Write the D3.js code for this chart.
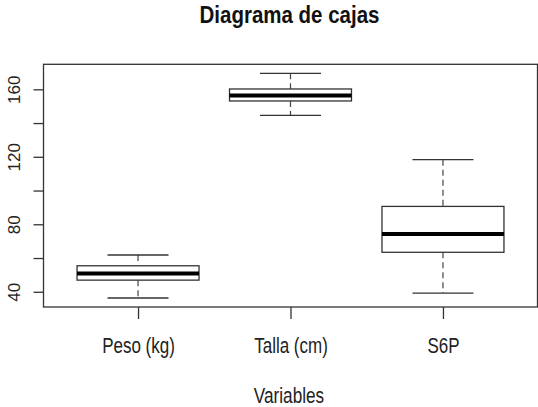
<!DOCTYPE html>
<html>
<head>
<meta charset="utf-8">
<script src="https://cdn.jsdelivr.net/npm/d3@7"></script>
<style>
  body { margin: 0; background: #fff; }
  text { font-family: "Liberation Sans", Arial, sans-serif; fill: #222; }
</style>
</head>
<body>
<div id="chart"></div>
<script>
// data
var categories = ["Peso (kg)", "Talla (cm)", "S6P"];
var whiskerLow  = [36.3, 144.6, 39.2];
var q1          = [46.9, 153.1, 63.4];
var median      = [50.9, 156.4, 74.2];
var q3          = [55.4, 160.2, 90.6];
var whiskerHigh = [61.8, 169.5, 118.3];
var yTicks = [40, 60, 80, 100, 120, 140, 160];
var yTickLabels = [40, 80, 120, 160];

var boxes = categories.map(function(c, i) {
  return {name: c, i: i + 1, lo: whiskerLow[i], q1: q1[i], med: median[i], q3: q3[i], hi: whiskerHigh[i]};
});

var width = 538, height = 407;
var margin = {top: 64.3, right: 0.5, bottom: 100, left: 43.5};
var plotW = width - margin.left - margin.right,
    plotH = 307 - margin.top;

var svg = d3.select("#chart")
  .append("svg")
    .attr("width", width)
    .attr("height", height);

var g = svg.append("g")
    .attr("transform", "translate(" + margin.left + "," + margin.top + ")");

// R style: x range 0.5..n+0.5, both axes padded by 4%
var n = categories.length;
var xPad = n * 0.04;
var x = d3.scaleLinear()
    .domain([0.5 - xPad, n + 0.5 + xPad])
    .range([0, plotW]);

var ext = [d3.min(whiskerLow), d3.max(whiskerHigh)];
var yPad = (ext[1] - ext[0]) * 0.04;
var y = d3.scaleLinear()
    .domain([ext[0] - yPad, ext[1] + yPad])
    .range([plotH, 0]);

var boxW = x(1.4) - x(1);     // half width of box (0.4 units)
var capW = x(1.2) - x(1);     // half width of staple

var line = "#333";

// whiskers (dashed)
var bx = g.selectAll(".box")
  .data(boxes)
  .enter()
  .append("g")
    .attr("class", "box");

bx.append("line")
    .attr("x1", d => x(d.i)).attr("x2", d => x(d.i))
    .attr("y1", d => y(d.hi)).attr("y2", d => y(d.q3))
    .attr("stroke", "#444").attr("stroke-width", 1.2)
    .attr("stroke-dasharray", "6,4");

bx.append("line")
    .attr("x1", d => x(d.i)).attr("x2", d => x(d.i))
    .attr("y1", d => y(d.q1)).attr("y2", d => y(d.lo))
    .attr("stroke", "#444").attr("stroke-width", 1.2)
    .attr("stroke-dasharray", "6,4");

// staples
bx.append("line")
    .attr("x1", d => x(d.i) - capW).attr("x2", d => x(d.i) + capW)
    .attr("y1", d => y(d.hi)).attr("y2", d => y(d.hi))
    .attr("stroke", line).attr("stroke-width", 1.3);

bx.append("line")
    .attr("x1", d => x(d.i) - capW).attr("x2", d => x(d.i) + capW)
    .attr("y1", d => y(d.lo)).attr("y2", d => y(d.lo))
    .attr("stroke", line).attr("stroke-width", 1.3);

// boxes
bx.append("rect")
    .attr("x", d => x(d.i) - boxW)
    .attr("width", boxW * 2)
    .attr("y", d => y(d.q3))
    .attr("height", d => y(d.q1) - y(d.q3))
    .attr("fill", "#fff")
    .attr("stroke", line).attr("stroke-width", 1.3);

// medians
bx.append("line")
    .attr("x1", d => x(d.i) - boxW).attr("x2", d => x(d.i) + boxW)
    .attr("y1", d => y(d.med)).attr("y2", d => y(d.med))
    .attr("stroke", "#000").attr("stroke-width", 4);

// frame
g.append("rect")
    .attr("width", plotW).attr("height", plotH)
    .attr("fill", "none")
    .attr("stroke", line).attr("stroke-width", 1.3);

// Y axis
var yAxis = g.append("g")
    .call(d3.axisLeft(y)
      .tickValues(yTicks)
      .tickSize(10)
      .tickFormat(v => yTickLabels.indexOf(v) >= 0 ? v : ""));
yAxis.select(".domain").remove();
yAxis.selectAll("line").attr("stroke", line).attr("stroke-width", 1.3);
yAxis.selectAll("text")
    .attr("transform", "rotate(-90)")
    .attr("x", 0)
    .attr("y", -24)
    .attr("dy", 0)
    .style("text-anchor", "middle")
    .style("font-family", "Liberation Sans, Arial, sans-serif")
    .style("font-size", "17px")
    .attr("fill", "#222");

// X axis
var xAxis = g.append("g")
    .attr("transform", "translate(0," + plotH + ")")
    .call(d3.axisBottom(x)
      .tickValues(d3.range(1, n + 1))
      .tickSize(12)
      .tickFormat(v => categories[v - 1]));
xAxis.select(".domain").remove();
xAxis.selectAll("line").attr("stroke", line).attr("stroke-width", 1.3);
xAxis.selectAll("text")
    .attr("y", 0)
    .attr("dy", 0)
    .attr("transform", "translate(0,45.7) scale(1,1.3)")
    .style("text-anchor", "middle")
    .style("font-family", "Liberation Sans, Arial, sans-serif")
    .style("font-size", "17px")
    .attr("fill", "#222");

// title
svg.append("text")
    .attr("transform", "translate(" + (margin.left + plotW / 2 - 1) + ",22.7) scale(1,1.14)")
    .attr("text-anchor", "middle")
    .style("font-size", "20.5px")
    .style("font-weight", "bold")
    .style("fill", "#111")
    .text("Diagrama de cajas");

// x label
svg.append("text")
    .attr("transform", "translate(" + (margin.left + plotW / 2 - 1.5) + ",403.3) scale(1,1.3)")
    .attr("text-anchor", "middle")
    .style("font-size", "17.2px")
    .text("Variables");
</script>
</body>
</html>
